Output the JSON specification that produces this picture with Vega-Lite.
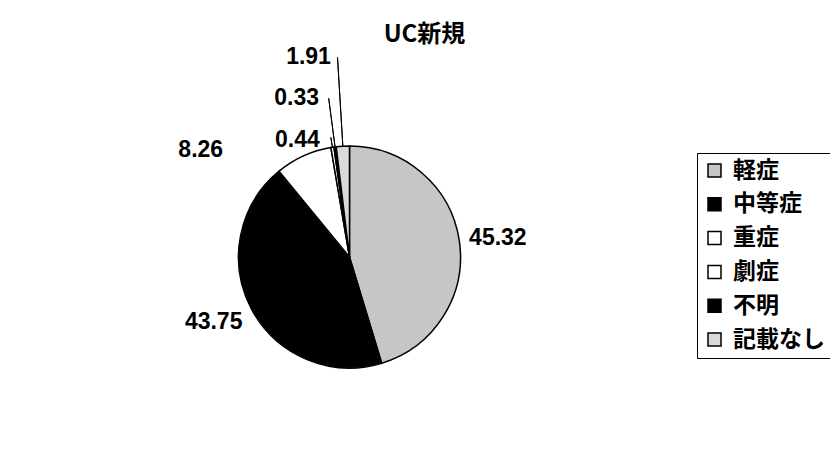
{
  "$schema": "https://vega.github.io/schema/vega-lite/v6.json",
  "autosize": "none",
  "width": 699,
  "height": 390,
  "padding": {"left": 0, "top": 62, "right": 131, "bottom": 0},
  "background": "white",
  "title": {"text": "UC新規", "font": "Noto Sans CJK JP", "fontSize": 24, "fontWeight": "bold", "color": "black", "dx": 75, "dy": 19, "offset": 18, "anchor": "middle"},
  "data": {"values": [
    {"cat": "軽症", "value": 45.32},
    {"cat": "中等症", "value": 43.75},
    {"cat": "重症", "value": 8.26},
    {"cat": "劇症", "value": 0.44},
    {"cat": "不明", "value": 0.33},
    {"cat": "記載なし", "value": 1.91}
  ]},
  "transform": [{"window": [{"op": "row_number", "as": "idx"}]}],
  "encoding": {
    "theta": {"field": "value", "type": "quantitative", "stack": true},
    "order": {"field": "idx", "type": "quantitative"}
  },
  "layer": [
    {
      "mark": {"type": "arc", "radius": 111, "stroke": "black", "strokeWidth": 1.5},
      "encoding": {
        "color": {
          "field": "cat", "type": "nominal",
          "scale": {"domain": ["軽症", "中等症", "重症", "劇症", "不明", "記載なし"], "range": ["#c6c6c6", "#000000", "#ffffff", "#ffffff", "#000000", "#d9d9d9"]},
          "legend": {"title": null, "orient": "none", "legendX": 697, "legendY": 91, "direction": "vertical", "symbolType": "square", "symbolSize": 169, "symbolStrokeColor": "black", "symbolStrokeWidth": 1.5, "symbolOffset": 0, "labelFont": "Noto Sans CJK JP", "labelFontSize": 23, "labelFontWeight": "bold", "labelColor": "black", "labelOffset": 7, "rowPadding": 9.8, "padding": 6, "strokeColor": "black", "fillColor": "white", "labelLimit": 300}
        }
      }
    },
    {
      "mark": {"type": "arc", "radius": 121, "radius2": 111, "padAngle": 1.5, "fill": "white", "fillOpacity": 0, "stroke": "black", "strokeWidth": 1},
      "encoding": {"detail": {"field": "cat"}, "strokeOpacity": {"condition": {"test": "datum.cat === '劇症'", "value": 1}, "value": 0}}
    },
    {
      "mark": {"type": "arc", "radius": 160, "radius2": 111, "padAngle": 1.5, "fill": "white", "fillOpacity": 0, "stroke": "black", "strokeWidth": 1},
      "encoding": {"detail": {"field": "cat"}, "strokeOpacity": {"condition": {"test": "datum.cat === '不明'", "value": 1}, "value": 0}}
    },
    {
      "mark": {"type": "arc", "radius": 200, "radius2": 111, "padAngle": 1.5, "fill": "white", "fillOpacity": 0, "stroke": "black", "strokeWidth": 1},
      "encoding": {"detail": {"field": "cat"}, "strokeOpacity": {"condition": {"test": "datum.cat === '記載なし'", "value": 1}, "value": 0}}
    },
    {
      "mark": {"type": "text", "radius": 150, "dy": 3, "font": "Liberation Sans", "fontSize": 23, "fontWeight": "bold", "color": "black"},
      "encoding": {"detail": {"field": "cat"}, "text": {"condition": {"test": "datum.cat === '軽症'", "field": "value", "type": "quantitative", "format": ".2f"}, "value": ""}}
    },
    {
      "mark": {"type": "text", "radius": 154, "dy": -8, "font": "Liberation Sans", "fontSize": 23, "fontWeight": "bold", "color": "black"},
      "encoding": {"detail": {"field": "cat"}, "text": {"condition": {"test": "datum.cat === '中等症'", "field": "value", "type": "quantitative", "format": ".2f"}, "value": ""}}
    },
    {
      "mark": {"type": "text", "radius": 120, "dx": -99, "dy": 2, "font": "Liberation Sans", "fontSize": 23, "fontWeight": "bold", "color": "black"},
      "encoding": {"detail": {"field": "cat"}, "text": {"condition": {"test": "datum.cat === '重症'", "field": "value", "type": "quantitative", "format": ".2f"}, "value": ""}}
    },
    {
      "mark": {"type": "text", "radius": 118, "dx": -34, "font": "Liberation Sans", "fontSize": 23, "fontWeight": "bold", "color": "black"},
      "encoding": {"detail": {"field": "cat"}, "text": {"condition": {"test": "datum.cat === '劇症'", "field": "value", "type": "quantitative", "format": ".2f"}, "value": ""}}
    },
    {
      "mark": {"type": "text", "radius": 160, "dx": -32, "font": "Liberation Sans", "fontSize": 23, "fontWeight": "bold", "color": "black"},
      "encoding": {"detail": {"field": "cat"}, "text": {"condition": {"test": "datum.cat === '不明'", "field": "value", "type": "quantitative", "format": ".2f"}, "value": ""}}
    },
    {
      "mark": {"type": "text", "radius": 200, "dx": -29, "font": "Liberation Sans", "fontSize": 23, "fontWeight": "bold", "color": "black"},
      "encoding": {"detail": {"field": "cat"}, "text": {"condition": {"test": "datum.cat === '記載なし'", "field": "value", "type": "quantitative", "format": ".2f"}, "value": ""}}
    }
  ],
  "config": {"view": {"stroke": null}}
}
